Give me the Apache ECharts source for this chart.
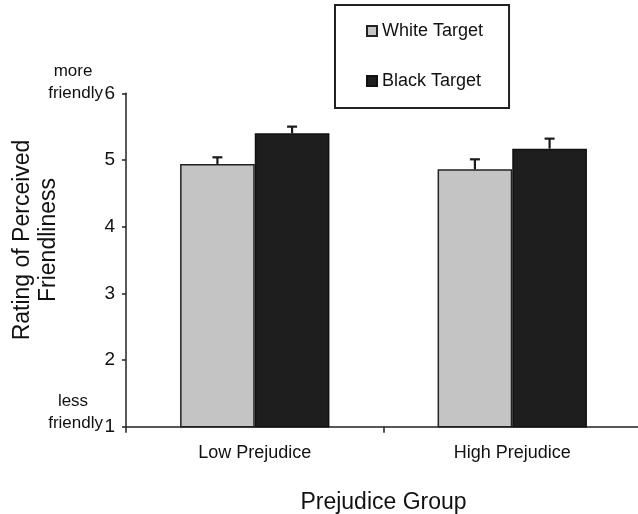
<!DOCTYPE html>
<html>
<head>
<meta charset="utf-8">
<script src="https://cdn.jsdelivr.net/npm/echarts@6/dist/echarts.min.js"></script>
<style>html,body{margin:0;padding:0;background:#fff;}#c{width:638px;height:514px;}</style>
</head>
<body>
<div id="c"></div>
<script>
const categories = ['Low Prejudice', 'High Prejudice'];
const seriesNames = ['White Target', 'Black Target'];
const whiteMeans = [4.94, 4.86];
const blackMeans = [5.40, 5.17];
const whiteErr = [0.10, 0.15];
const blackErr = [0.10, 0.15];
const yTicks = [1, 2, 3, 4, 5, 6];

const FONT = '"Liberation Sans", Arial, sans-serif';
const GAP = 0.42;

function errSeries(means, errs, side) {
  return {
    type: 'custom',
    silent: true,
    z: 5,
    data: means.map((m, i) => [i, m, errs[i]]),
    renderItem: function (params, api) {
      const band = api.size([1, 0])[0];
      const bw = band * (1 - GAP) / 2;
      const base = api.coord([api.value(0), api.value(1)]);
      const top = api.coord([api.value(0), api.value(1) + api.value(2)]);
      const x = base[0] + side * bw / 2;
      const cap = 5;
      const st = { stroke: '#1a1a1a', lineWidth: 2.2 };
      return {
        type: 'group',
        children: [
          { type: 'line', shape: { x1: x, y1: base[1], x2: x, y2: top[1] }, style: st },
          { type: 'line', shape: { x1: x - cap, y1: top[1], x2: x + cap, y2: top[1] }, style: st }
        ]
      };
    }
  };
}

const chart = echarts.init(document.getElementById('c'), null, { renderer: 'canvas' });
chart.setOption({
  animation: false,
  backgroundColor: '#fff',
  grid: { left: 126, top: 93.3, width: 515, height: 333.4, containLabel: false, outerBoundsMode: 'none' },
  legend: {
    data: seriesNames,
    orient: 'vertical',
    left: 335, top: 5,
    padding: [17, 26, 18, 31],
    itemGap: 32,
    itemWidth: 10, itemHeight: 10,
    icon: 'rect',
    borderColor: '#222', borderWidth: 2,
    textStyle: { fontFamily: FONT, fontSize: 18, color: '#111' }
  },
  xAxis: {
    type: 'category',
    data: categories,
    axisLine: { lineStyle: { color: '#222', width: 1.5 } },
    axisTick: { show: true, length: 6, lineStyle: { color: '#222', width: 1.5 } },
    axisLabel: { fontFamily: FONT, fontSize: 18, color: '#111', margin: 17 },
    name: 'Prejudice Group',
    nameLocation: 'middle',
    nameGap: 64,
    nameTextStyle: { fontFamily: FONT, fontSize: 23, color: '#111' }
  },
  yAxis: {
    type: 'value',
    min: yTicks[0], max: yTicks[yTicks.length - 1], interval: 1,
    splitLine: { show: false },
    axisLine: { show: true, lineStyle: { color: '#222', width: 1.5 } },
    axisTick: { show: true, length: 4, lineStyle: { color: '#222', width: 1.5 } },
    axisLabel: { fontFamily: FONT, fontSize: 19, color: '#111', margin: 11 }
  },
  graphic: [
    { type: 'text', x: 36, y: 240, rotation: Math.PI / 2,
      style: { text: 'Rating of Perceived\nFriendliness', font: '23px ' + FONT, fill: '#111',
               align: 'center', verticalAlign: 'middle', lineHeight: 26 } },
    { type: 'text', x: 73, y: 71, style: { text: 'more', font: '17px ' + FONT, fill: '#111', align: 'center', verticalAlign: 'middle' } },
    { type: 'text', x: 103, y: 93, style: { text: 'friendly', font: '17px ' + FONT, fill: '#111', align: 'right', verticalAlign: 'middle' } },
    { type: 'text', x: 73, y: 401, style: { text: 'less', font: '17px ' + FONT, fill: '#111', align: 'center', verticalAlign: 'middle' } },
    { type: 'text', x: 103, y: 423, style: { text: 'friendly', font: '17px ' + FONT, fill: '#111', align: 'right', verticalAlign: 'middle' } }
  ],
  series: [
    { name: seriesNames[0], type: 'bar', data: whiteMeans, barGap: '0%', barCategoryGap: (GAP * 100) + '%',
      itemStyle: { color: '#c4c4c4', borderColor: '#222', borderWidth: 1.5 } },
    { name: seriesNames[1], type: 'bar', data: blackMeans, barGap: '0%', barCategoryGap: (GAP * 100) + '%',
      itemStyle: { color: '#1e1e1e', borderColor: '#111', borderWidth: 1.5 } },
    errSeries(whiteMeans, whiteErr, -1),
    errSeries(blackMeans, blackErr, 1)
  ]
});
</script>
</body>
</html>
